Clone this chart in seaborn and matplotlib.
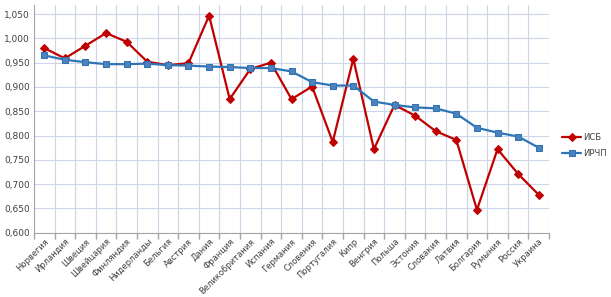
import matplotlib.pyplot as plt
import numpy as np
import pandas as pd
import seaborn as sns
from matplotlib.ticker import FixedLocator, FuncFormatter

countries = ['Норвегия', 'Ирландия', 'Швеция', 'Швейцария', 'Финляндия', 'Нидерланды',
             'Бельгия', 'Австрия', 'Дания', 'Франция', 'Великобритания', 'Испания',
             'Германия', 'Словения', 'Португалия', 'Кипр', 'Венгрия', 'Польша',
             'Эстония', 'Словакия', 'Латвия', 'Болгария', 'Румыния', 'Россия', 'Украина']
isb = [0.980, 0.959, 0.985, 1.011, 0.993, 0.952, 0.945, 0.949, 1.047, 0.875, 0.937, 0.950,
       0.875, 0.901, 0.787, 0.958, 0.772, 0.863, 0.841, 0.809, 0.791, 0.647, 0.772, 0.721, 0.678]
irchp = [0.965, 0.956, 0.951, 0.947, 0.947, 0.948, 0.945, 0.944, 0.942, 0.941, 0.939, 0.939,
         0.932, 0.910, 0.903, 0.903, 0.870, 0.863, 0.858, 0.856, 0.845, 0.816, 0.806, 0.798, 0.775]
yticks = [0.600, 0.650, 0.700, 0.750, 0.800, 0.850, 0.900, 0.950, 1.000, 1.050]

pos = np.arange(len(countries))
df = pd.DataFrame({'pos': np.concatenate([pos, pos]),
                   'value': isb + irchp,
                   'series': ['ИСБ'] * len(isb) + ['ИРЧП'] * len(irchp)})

sns.set_theme(style='white')
plt.rcParams['font.family'] = ['DejaVu Sans']

fig = plt.figure(figsize=(6.11, 2.97), dpi=100)
ax = fig.add_axes([0.0556, 0.2165, 0.843, 0.767])

sns.lineplot(df, x='pos', y='value', hue='series', style='series',
             hue_order=['ИСБ', 'ИРЧП'],
             palette={'ИСБ': '#C00000', 'ИРЧП': '#2E75B6'},
             markers={'ИСБ': 'D', 'ИРЧП': 's'}, dashes=False,
             linewidth=1.6, markersize=3.6, ax=ax, zorder=3)


def style_marks(lines):
    for line in lines:
        if line.get_marker() == 's':
            line.set_markerfacecolor('#4F81BD')
            line.set_markeredgecolor('#2E75B6')
            line.set_markersize(4.6)
        elif line.get_marker() == 'D':
            line.set_markerfacecolor('#C00000')
            line.set_markeredgecolor('#C00000')


style_marks(ax.lines)

ax.set_xlim(-0.5, len(countries) - 0.5)
ax.set_ylim(0.600, 1.069)
ax.set_yticks(yticks)
ax.yaxis.set_major_formatter(FuncFormatter(lambda v, _: f'{v:.3f}'.replace('.', ',')))
ax.set_xticks(pos)
ax.set_xticklabels(countries, rotation=45, ha='right', rotation_mode='anchor', fontsize=6)
ax.xaxis.set_minor_locator(FixedLocator(np.arange(-0.5, len(countries), 1)))
ax.tick_params(axis='x', which='major', length=0, pad=3)
ax.tick_params(axis='x', which='minor', length=4, color='#A6A6A6', direction='out', bottom=True)
ax.tick_params(axis='y', labelsize=6.5, length=0, pad=3, colors='#404040')
ax.tick_params(axis='x', colors='#404040')
ax.grid(True, axis='y', which='major', color='#CDD5EA', linewidth=0.8)
ax.grid(True, axis='x', which='minor', color='#CDD5EA', linewidth=0.8)
ax.grid(False, axis='x', which='major')
ax.set_axisbelow(True)
for side in ['top', 'right']:
    ax.spines[side].set_visible(False)
for side in ['left', 'bottom']:
    ax.spines[side].set_color('#A6A6A6')
    ax.spines[side].set_linewidth(0.8)
ax.set_xlabel('')
ax.set_ylabel('')

leg = ax.legend(loc='center left', bbox_to_anchor=(1.025, 0.383), frameon=False,
                fontsize=6, handlelength=2.3, handletextpad=0.2, labelspacing=0.9,
                borderpad=0, borderaxespad=0)
style_marks(leg.legend_handles)
for t in leg.get_texts():
    t.set_color('#404040')

fig.savefig('out.png', dpi=100)
